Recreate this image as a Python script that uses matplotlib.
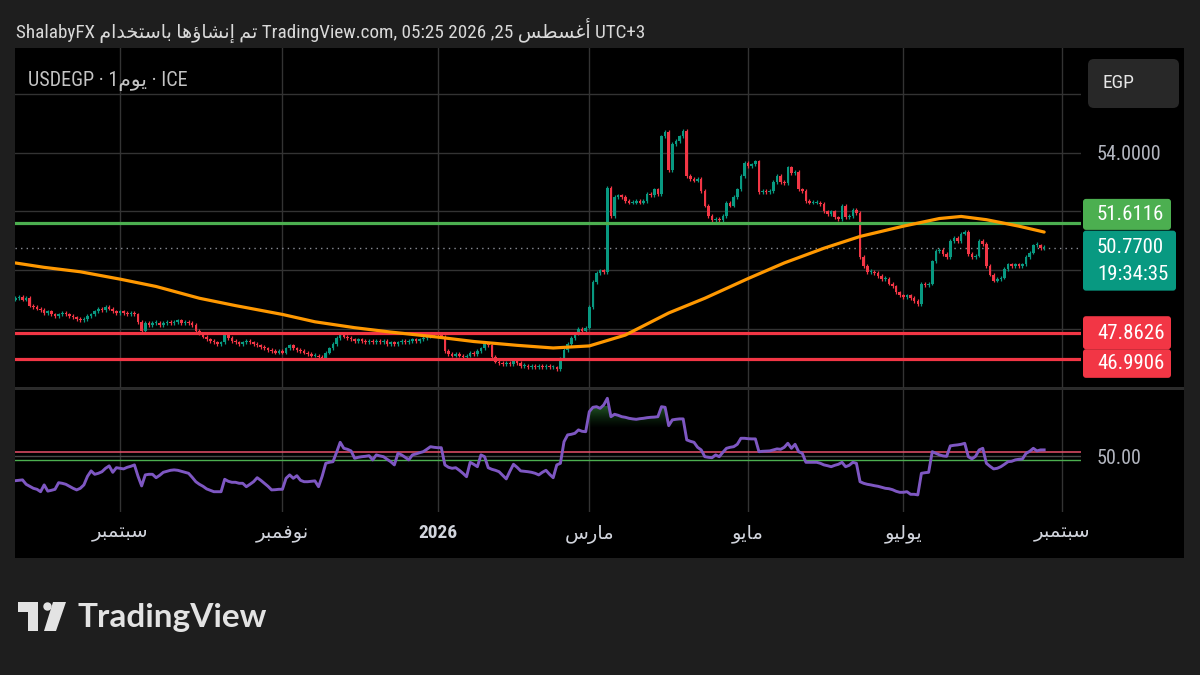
import numpy as np
import matplotlib
matplotlib.use('Agg')
import matplotlib.pyplot as plt
from matplotlib import font_manager as fm
from matplotlib.patches import FancyBboxPatch, Circle, Polygon
from matplotlib.path import Path
from matplotlib.transforms import Affine2D
from matplotlib.colors import LinearSegmentedColormap

# ---------------- data (USDEGP daily) ----------------
START = '2025-07-22'
first_open = 49.0
closes = np.array([
    49.05, 49.1, 49.0, 49.05, 48.8, 48.75, 48.7, 48.65, 48.55, 48.6,
    48.5, 48.45, 48.5, 48.55, 48.5, 48.45, 48.4, 48.35, 48.3, 48.35,
    48.45, 48.5, 48.6, 48.7, 48.65, 48.75, 48.7, 48.6, 48.55, 48.6,
    48.55, 48.5, 48.55, 48.5, 48.25, 47.95, 48.2, 48.15, 48.2, 48.2,
    48.15, 48.2, 48.25, 48.2, 48.25, 48.3, 48.2, 48.25, 48.2, 48.15,
    47.95, 47.85, 47.75, 47.65, 47.6, 47.55, 47.5, 47.55, 47.85, 47.7,
    47.6, 47.55, 47.5, 47.55, 47.6, 47.55, 47.5, 47.45, 47.4, 47.35,
    47.3, 47.25, 47.2, 47.25, 47.2, 47.35, 47.45, 47.35, 47.3, 47.25,
    47.2, 47.15, 47.1, 47.1, 47.05, 47.0, 47.2, 47.35, 47.5, 47.7,
    47.8, 47.75, 47.7, 47.65, 47.6, 47.65, 47.6, 47.55, 47.6, 47.55,
    47.6, 47.55, 47.6, 47.5, 47.55, 47.5, 47.55, 47.6, 47.55, 47.6,
    47.65, 47.6, 47.65, 47.7, 47.75, 47.8, 47.85, 47.8, 47.75, 47.25,
    47.15, 47.1, 47.15, 47.1, 47.05, 47.1, 47.2, 47.15, 47.25, 47.35,
    47.5, 47.45, 47.05, 46.9, 46.85, 46.8, 46.85, 46.8, 46.95, 46.85,
    46.75, 46.75, 46.7, 46.75, 46.7, 46.75, 46.7, 46.75, 46.7, 46.7,
    46.65, 47.0, 47.3, 47.5, 47.7, 47.85, 48.0, 47.95, 48.05, 48.75,
    49.6, 49.9, 50.0, 49.95, 52.8, 51.85, 52.5, 52.55, 52.5, 52.35,
    52.3, 52.3, 52.35, 52.3, 52.35, 52.6, 52.55, 52.75, 52.6, 54.55,
    54.7, 53.4, 54.3, 54.4, 54.55, 54.75, 53.2, 53.1, 53.05, 53.1,
    52.7, 52.2, 51.85, 51.7, 51.75, 51.7, 51.85, 52.3, 52.2, 52.5,
    52.75, 53.2, 53.65, 53.55, 53.6, 53.7, 52.65, 52.7, 52.65, 52.7,
    53.0, 53.2, 53.0, 52.95, 53.5, 53.3, 53.35, 52.75, 52.7, 52.35,
    52.3, 52.3, 52.3, 52.25, 52.0, 51.9, 52.0, 51.8, 51.75, 52.2,
    51.8, 51.85, 52.05, 51.95, 50.45, 50.15, 49.95, 49.95, 49.9, 49.8,
    49.7, 49.7, 49.55, 49.45, 49.25, 49.15, 49.1, 49.15, 49.05, 48.95,
    48.85, 49.55, 49.5, 49.55, 50.3, 50.65, 50.7, 50.55, 50.45, 51.0,
    51.1, 51.0, 51.25, 51.3, 50.55, 50.45, 50.5, 51.0, 50.9, 50.15,
    49.85, 49.65, 49.7, 49.75, 50.05, 50.2, 50.15, 50.2, 50.15, 50.2,
    50.45, 50.6, 50.85, 50.85, 50.75, 50.77,
])

ma_dates = ['2025-07-22', '2025-08-01', '2025-08-15', '2025-09-01', '2025-09-15',
            '2025-10-01', '2025-10-15', '2025-11-03', '2025-11-14', '2025-12-01',
            '2025-12-15', '2026-01-01', '2026-01-15', '2026-02-02', '2026-02-16',
            '2026-03-02', '2026-03-16', '2026-04-01', '2026-04-15', '2026-05-01',
            '2026-05-15', '2026-06-01', '2026-06-15', '2026-07-01', '2026-07-15',
            '2026-07-23', '2026-08-03', '2026-08-14', '2026-08-25']
ma_vals = [50.25, 50.1, 49.95, 49.7, 49.45, 49.05, 48.8, 48.5, 48.25, 48.05,
           47.9, 47.73, 47.58, 47.45, 47.36, 47.43, 47.8, 48.55, 49.05, 49.72,
           50.25, 50.75, 51.15, 51.5, 51.76, 51.83, 51.72, 51.5, 51.3]

rsi = np.array([
    37.8, 38, 38.2, 36, 35, 34, 33.5, 32.3, 35.7, 32.6,
    33, 33.5, 36.8, 36.5, 36, 35, 34, 33.2, 34, 35.7,
    40, 42.7, 41, 41.5, 42.3, 44, 45.2, 42, 44.3, 44,
    43.7, 44.5, 45, 45.7, 40, 35.2, 40.7, 41, 41, 39.3,
    40.5, 42, 42.5, 43, 43.2, 43, 42.5, 42, 41.5, 39.5,
    37.3, 36, 35, 33.7, 33, 32.3, 32.3, 32.3, 38.5, 37.5,
    37, 37, 36.5, 36.5, 34.8, 36, 37.3, 39.3, 38, 36.5,
    35, 33.2, 33.3, 33.5, 33.5, 39, 40.7, 39, 40.3, 38,
    37.3, 37.3, 37.5, 37.7, 34.8, 40, 46.5, 47, 47.3, 52,
    57, 54, 53.5, 52.7, 49, 49.5, 49.8, 50, 50.3, 48.2,
    50.7, 50.2, 49.8, 48.5, 47.3, 45.7, 51.5, 50.7, 49.5, 48.2,
    50.7, 51.2, 51.8, 52.3, 53.5, 54.8, 54.5, 54.3, 54.3, 45.7,
    44.5, 44, 44.3, 43, 41.5, 39.8, 47, 46, 44.8, 50.7,
    49.8, 44.3, 43.5, 43, 42.3, 40.5, 38.7, 42.5, 46, 44.5,
    42.7, 42.5, 42.3, 42, 41.5, 40.7, 42, 43, 41, 39.3,
    45.7, 46.5, 57.3, 60.7, 61, 61.5, 63.2, 62.5, 62.3, 72.3,
    74.5, 74.8, 74, 75.7, 79, 69.8, 71, 70.5, 69.8, 69.5,
    69, 68.7, 68.5, 68.8, 69, 69.3, 69.5, 69.6, 69.8, 74.8,
    74.5, 65.3, 68.2, 68.5, 68.7, 68.7, 58.2, 57.5, 57, 54.5,
    53.2, 49.8, 49.5, 49.3, 50.7, 49.8, 52, 54, 54.5, 54.8,
    56, 59, 59, 58.8, 58.7, 58.7, 52.3, 52.5, 52.6, 52.7,
    53.2, 53.7, 53.5, 54.5, 56.5, 54, 56, 52.3, 51.5, 47,
    47, 47, 47, 46.5, 45.7, 45.3, 44.8, 45.5, 46, 47,
    44.8, 45.5, 47, 46.5, 37.3, 36.5, 36, 35.7, 35.3, 35,
    34.5, 34, 33.8, 33.3, 32.5, 32, 32, 32.3, 31, 31,
    30.7, 41.5, 41.8, 42, 52.3, 51.5, 50.7, 50.2, 50, 55.2,
    55.5, 55.7, 56, 56.5, 49.8, 48.7, 50, 53.2, 54, 46.5,
    45, 43.7, 44, 44.8, 46, 47.3, 47.5, 48.2, 48.5, 48.7,
    51.5, 52.5, 54, 52.7, 53.2, 53.2,
])

tick_dates = ['2025-09-01', '2025-11-03', '2026-01-01', '2026-03-02',
              '2026-05-01', '2026-07-01', '2026-09-01']
tick_names = ['سبتمبر', 'نوفمبر', '2026', 'مارس', 'مايو', 'يوليو', 'سبتمبر']

resistance = 51.6116
supports = [47.8626, 46.9906]
last_price = 50.77
countdown = '19:34:35'
price_grid = [46, 48, 50, 52, 54, 56]
rsi_levels = [52, 50, 48]
rsi_fill_from = 64

# ---------------- Arabic shaping (matplotlib draws glyphs left to right) ----------------
AR_FORMS = {
    'ا': (0xFE8D, 0xFE8E), 'أ': (0xFE83, 0xFE84), 'إ': (0xFE87, 0xFE88),
    'ؤ': (0xFE85, 0xFE86), 'د': (0xFEA9, 0xFEAA), 'ر': (0xFEAD, 0xFEAE),
    'و': (0xFEED, 0xFEEE),
    'ب': (0xFE8F, 0xFE90, 0xFE91, 0xFE92), 'ت': (0xFE95, 0xFE96, 0xFE97, 0xFE98),
    'خ': (0xFEA5, 0xFEA6, 0xFEA7, 0xFEA8), 'س': (0xFEB1, 0xFEB2, 0xFEB3, 0xFEB4),
    'ش': (0xFEB5, 0xFEB6, 0xFEB7, 0xFEB8), 'ط': (0xFEC1, 0xFEC2, 0xFEC3, 0xFEC4),
    'غ': (0xFECD, 0xFECE, 0xFECF, 0xFED0), 'ف': (0xFED1, 0xFED2, 0xFED3, 0xFED4),
    'ل': (0xFEDD, 0xFEDE, 0xFEDF, 0xFEE0), 'م': (0xFEE1, 0xFEE2, 0xFEE3, 0xFEE4),
    'ن': (0xFEE5, 0xFEE6, 0xFEE7, 0xFEE8), 'ه': (0xFEE9, 0xFEEA, 0xFEEB, 0xFEEC),
    'ي': (0xFEF1, 0xFEF2, 0xFEF3, 0xFEF4),
}


def ar(word):
    if not any(ch in AR_FORMS for ch in word):
        return word
    out = []
    for k, ch in enumerate(word):
        f = AR_FORMS[ch]
        jp = k > 0 and len(AR_FORMS[word[k - 1]]) == 4
        jn = len(f) == 4 and k + 1 < len(word)
        if jp and jn:
            out.append(chr(f[3]))
        elif jn:
            out.append(chr(f[2]))
        elif jp:
            out.append(chr(f[1]))
        else:
            out.append(chr(f[0]))
    return ''.join(reversed(out))


# ---------------- style ----------------
W, H = 1200, 675
BG = '#1e1e1e'
UP, DOWN = '#089981', '#f23645'
GREEN = '#4caf50'
GRID = '#333333'
TXT = '#d1d4dc'

names = {f.name for f in fm.fontManager.ttflist}
NARROW = next((f for f in ['Roboto Condensed', 'Liberation Sans Narrow', 'Roboto']
               if f in names), 'DejaVu Sans')
plt.rcParams['font.family'] = [NARROW, 'DejaVu Sans']

# pixel layout of the screenshot
PX0, PXB = 15.3, 3.61          # x pixel of bar 0, pixels per bar
PY0, PYS = 1780.4, 30.1        # price = (PY0 - y) / PYS
RY50, RYS = 456.3, 2.0         # rsi = 50 + (RY50 - y) / RYS


def frect(x0, y0, x1, y1):
    return [x0 / W, 1 - y1 / H, (x1 - x0) / W, (y1 - y0) / H]


fig = plt.figure(figsize=(W / 100, H / 100), dpi=100, facecolor=BG)
PIX = Affine2D().scale(1 / W, -1 / H).translate(0, 1) + fig.transFigure

# black chart panel (behind the axes)
fig.patches.append(FancyBboxPatch((15, 48), 1169, 510, boxstyle='square,pad=0',
                                  transform=PIX, fc='black', ec='none', zorder=-2))
# separator between panes
fig.patches.append(FancyBboxPatch((15, 387), 1169, 2.5, boxstyle='square,pad=0',
                                  transform=PIX, fc='#2b2b2b', ec='none', zorder=-1))

n = len(closes)
bar_x = np.arange(n)
xlim = ((15 - PX0) / PXB, (1081 - PX0) / PXB)
tick_x = np.busday_count(START, tick_dates)

# ---------------- price pane ----------------
ax = fig.add_axes(frect(15, 48, 1081, 388))
ax.set_facecolor('none')
ax.set_xlim(*xlim)
ax.set_ylim((PY0 - 388) / PYS, (PY0 - 48) / PYS)

opens = np.r_[first_open, closes[:-1]]
up = closes >= opens
lo = np.minimum(opens, closes)
hgt = np.maximum(np.abs(closes - opens), 0.035)
cols = np.where(up, UP, DOWN)
ax.vlines(bar_x, lo - 0.06, lo + hgt + 0.06, colors=cols, lw=0.9, zorder=3)
ax.bar(bar_x, hgt, bottom=lo, width=0.72, color=cols, linewidth=0, zorder=3)

ax.axhline(resistance, color=GREEN, lw=2.3, zorder=4)
for s in supports:
    ax.axhline(s, color=DOWN, lw=2.3, zorder=4)
ax.axhline(last_price, color='#8a8d96', lw=1.0, ls=(0, (1, 3)), zorder=2)

ma_x = np.busday_count(START, ma_dates)
ax.plot(ma_x, ma_vals, color='#ff9800', lw=2.3, solid_capstyle='round', zorder=5)

ax.set_xticks(tick_x)
ax.set_yticks(price_grid)
ax.set_yticklabels(['54.0000' if g == 54 else '' for g in price_grid])
ax.yaxis.tick_right()
ax.tick_params(axis='y', length=0, pad=11.5, labelsize=14.5, labelcolor='#b2b5be')
ax.tick_params(axis='x', length=0, labelbottom=False)
ax.grid(True, color=GRID, lw=1)
ax.set_axisbelow(True)
for sp in ax.spines.values():
    sp.set_visible(False)

# ---------------- RSI pane ----------------
rx = fig.add_axes(frect(15, 390, 1081, 512))
rx.set_facecolor('none')
rx.set_xlim(*xlim)
rx.set_ylim(50 + (RY50 - 512) / RYS, 50 + (RY50 - 390) / RYS)

rx.axhline(rsi_levels[0], color='#e8506a', lw=1.1, zorder=2)
rx.axhline(rsi_levels[1], color='#4a4a4a', lw=1.0, zorder=2)
rx.axhline(rsi_levels[2], color=GREEN, lw=1.0, zorder=2)

# overbought gradient under the line
poly = rx.fill_between(bar_x, rsi, rsi_fill_from, where=rsi > rsi_fill_from,
                       interpolate=True, color='none', lw=0)
clip = Path.make_compound_path(*poly.get_paths())
gcm = LinearSegmentedColormap.from_list('ob', [(0.05, 0.2, 0.07, 0.0), (0.13, 0.34, 0.15, 1.0)])
img = rx.imshow(np.linspace(0, 1, 128).reshape(-1, 1), cmap=gcm, origin='lower',
                extent=[xlim[0], xlim[1], rsi_fill_from, 75], aspect='auto', zorder=1)
img.set_clip_path(clip, transform=rx.transData)
rx.set_xlim(*xlim)
rx.set_ylim(50 + (RY50 - 512) / RYS, 50 + (RY50 - 390) / RYS)

rx.plot(bar_x, rsi, color='#7e57c2', lw=2.1, zorder=3)

rx.set_yticks([50])
rx.set_yticklabels(['50.00'])
rx.yaxis.tick_right()
rx.tick_params(axis='y', length=0, pad=11.5, labelsize=14.5, labelcolor='#b2b5be')
rx.set_xticks(tick_x)
rx.set_xticklabels([ar(t) for t in tick_names])
rx.tick_params(axis='x', length=0, pad=9, labelsize=14, labelcolor=TXT)
for lab in rx.get_xticklabels():
    if lab.get_text() == '2026':
        lab.set_fontweight('bold')
rx.grid(True, axis='x', color=GRID, lw=1)
rx.set_axisbelow(True)
for sp in rx.spines.values():
    sp.set_visible(False)


# ---------------- price tags on the right scale ----------------
def py(p):
    return H - ax.transData.transform((0, p))[1]


def tag(top, bottom, right, color):
    fig.patches.append(FancyBboxPatch((1083, top), right - 1083, bottom - top,
                                      boxstyle='round,pad=0,rounding_size=3',
                                      transform=PIX, fc=color, ec='none', zorder=6))


yr = py(resistance)
tag(yr - 24, yr + 7, 1171, GREEN)
fig.text(1097 / W, 1 - (yr - 8.5) / H, f'{resistance:.4f}', color='white',
         fontsize=15, va='center', zorder=7)

yl = py(last_price)
tag(yl - 17, yl + 43, 1176, UP)
fig.text(1097 / W, 1 - yl / H, f'{last_price:.4f}', color='white',
         fontsize=15, va='center', zorder=7)
fig.text(1097 / W, 1 - (yl + 27) / H, countdown, color='white',
         fontsize=15, va='center', zorder=7)

ys1, ys2 = py(supports[0]), py(supports[1])
tag(ys1 - 17, ys1 + 16, 1171, DOWN)
tag(ys1 + 16, ys2 + 19, 1171, DOWN)
fig.text(1097 / W, 1 - ys1 / H, f'{supports[0]:.4f}', color='white',
         fontsize=15, va='center', zorder=7)
fig.text(1097 / W, 1 - (ys2 + 4.5) / H, f'{supports[1]:.4f}', color='white',
         fontsize=15, va='center', zorder=7)

# currency button
fig.patches.append(FancyBboxPatch((1088, 59), 91, 49, boxstyle='round,pad=0,rounding_size=6',
                                  transform=PIX, fc='#282828', ec='none', zorder=6))
fig.text(1103 / W, 1 - 83 / H, 'EGP', color='#e6e6e6', fontsize=14, va='center', zorder=7)

# ---------------- header / legend texts ----------------
header = ('ShalabyFX ' + ar('باستخدام') + ' ' + ar('إنشاؤها') + ' ' + ar('تم') +
          ' TradingView.com, 05:25 2026 ,25 ' + ar('أغسطس') + ' UTC+3')
fig.text(16 / W, 1 - 30 / H, header, color='#d9d9d9', fontsize=13.8, va='center')
fig.text(28 / W, 1 - 81 / H, 'USDEGP · 1' + ar('يوم') + ' · ICE', color='#c4c4c4',
         fontsize=14.5, va='center')

# ---------------- TradingView logo ----------------
LOGO = '#e3e3e3'
fig.patches.append(Polygon([(18, 602), (38, 602), (38, 631), (28, 631), (28, 612), (18, 612)],
                           closed=True, transform=PIX, fc=LOGO, ec='none'))
fig.patches.append(Circle((47.5, 606.5), 4.2, transform=PIX, fc=LOGO, ec='none'))
fig.patches.append(Polygon([(53, 602), (66, 602), (56, 631), (44, 631)],
                           closed=True, transform=PIX, fc=LOGO, ec='none'))
fig.text(77 / W, 1 - 617 / H, 'TradingView', color=LOGO, fontsize=24,
         fontweight='bold', family=['Lato', 'DejaVu Sans'], va='center')

fig.savefig('out.png', dpi=100, facecolor=BG)
